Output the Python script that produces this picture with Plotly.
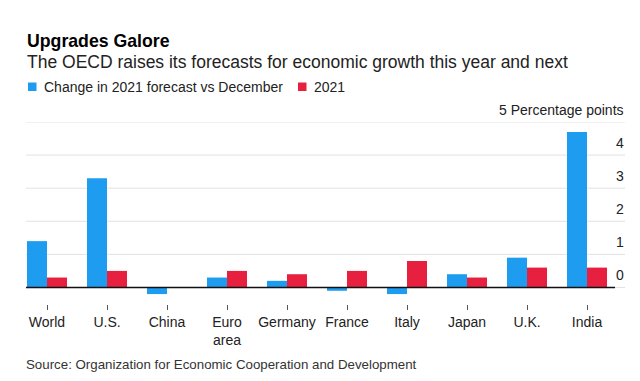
import plotly.graph_objects as go

categories = ["World", "U.S.", "China", "Euro<br>area", "Germany", "France", "Italy", "Japan", "U.K.", "India"]
change_2021 = [1.4, 3.3, -0.2, 0.3, 0.2, -0.1, -0.2, 0.4, 0.9, 4.7]
series_2021 = [0.3, 0.5, 0.0, 0.5, 0.4, 0.5, 0.8, 0.3, 0.6, 0.6]
y_ticks = [0, 1, 2, 3, 4, 5]
y_tick_labels = ["0", "1", "2", "3", "4", "5 Percentage points"]
series_names = ["Change in 2021 forecast vs December", "2021"]
colors = ["#1e9cf0", "#e8203f"]

W, H = 640, 381
ML, MR, MT, MB = 9, 31, 114, 85
PW = W - ML - MR
PH = H - MT - MB

def px(x):
    return (x - ML) / PW

def py(y):
    return (H - MB - y) / PH

FONT = "Liberation Sans, Arial, Helvetica, sans-serif"

fig = go.Figure()
fig.add_trace(go.Bar(x=categories, y=change_2021, name=series_names[0], marker_color=colors[0], marker_line_width=0))
fig.add_trace(go.Bar(x=categories, y=series_2021, name=series_names[1], marker_color=colors[1], marker_line_width=0))

shapes = []
annotations = []
for t, lab in zip(y_ticks, y_tick_labels):
    shapes.append(dict(type="line", xref="paper", yref="y", x0=px(18), x1=px(617), y0=t, y1=t,
                       line=dict(color="#e2e2e2", width=1), layer="below"))
    annotations.append(dict(xref="paper", yref="y", x=px(618), y=t, text=lab, showarrow=False,
                            xanchor="right", yanchor="bottom", yshift=2,
                            font=dict(family=FONT, size=14, color="#222")))
shapes.append(dict(type="line", xref="paper", yref="y", x0=px(18), x1=px(607), y0=0, y1=0,
                   line=dict(color="#111", width=1.5), layer="above"))

# title, subtitle, source
annotations.append(dict(xref="paper", yref="paper", x=px(17), y=py(33), text="<b>Upgrades Galore</b>",
                        showarrow=False, xanchor="left", yanchor="middle",
                        font=dict(family=FONT, size=17.7, color="#000")))
annotations.append(dict(xref="paper", yref="paper", x=px(17), y=py(54),
                        text="The OECD raises its forecasts for economic growth this year and next",
                        showarrow=False, xanchor="left", yanchor="middle",
                        font=dict(family=FONT, size=17.5, color="#222")))
annotations.append(dict(xref="paper", yref="paper", x=px(16), y=py(356),
                        text="Source: Organization for Economic Cooperation and Development",
                        showarrow=False, xanchor="left", yanchor="middle",
                        font=dict(family=FONT, size=13.3, color="#333")))

# legend
leg = [(20, 35), (290, 305)]
for (sx, tx), name, col in zip(leg, series_names, colors):
    shapes.append(dict(type="rect", xref="paper", yref="paper", x0=px(sx), x1=px(sx + 8.5),
                       y0=py(83), y1=py(74.5), fillcolor=col, line=dict(width=0)))
    annotations.append(dict(xref="paper", yref="paper", x=px(tx - 1), y=py(78.5), text=name,
                            showarrow=False, xanchor="left", yanchor="middle",
                            font=dict(family=FONT, size=14, color="#222")))

fig.update_layout(
    width=W, height=H,
    margin=dict(l=ML, r=MR, t=MT, b=MB),
    paper_bgcolor="white", plot_bgcolor="white",
    barmode="group", bargap=1/3, bargroupgap=0,
    showlegend=False,
    shapes=shapes, annotations=annotations,
    font=dict(family=FONT),
    xaxis=dict(showgrid=False, zeroline=False, showline=False, ticks="outside", ticklen=5,
               tickcolor="#555", tickwidth=1, tickfont=dict(family=FONT, size=14, color="#222"),
               range=[-0.5, 9.5]),
    yaxis=dict(range=[-0.5, 5], showgrid=False, zeroline=False, showticklabels=False, showline=False),
)

fig.write_html("out.html")
